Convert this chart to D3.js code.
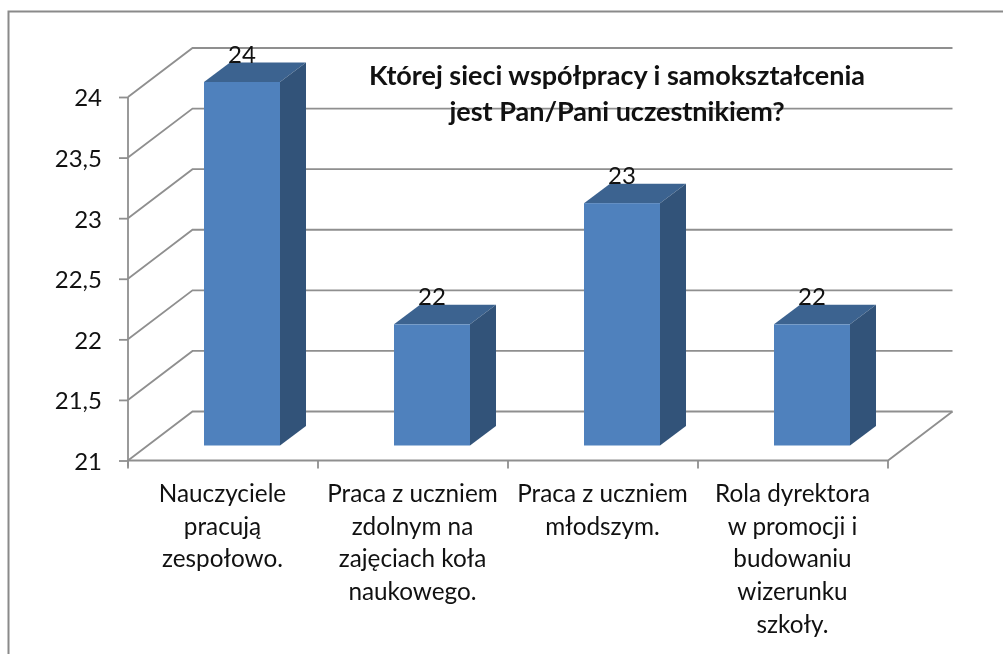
<!DOCTYPE html>
<html>
<head>
<meta charset="utf-8">
<script src="https://cdn.jsdelivr.net/npm/d3@7"></script>
<style>
html,body{margin:0;padding:0;background:#fff;overflow:hidden}
svg{display:block;filter:blur(0.45px)}
text{font-family:Lato,"Open Sans",sans-serif;fill:#111}
</style>
</head>
<body>
<svg id="c" width="1003" height="654"></svg>
<script>
const categories = [
  ["Nauczyciele","pracują","zespołowo."],
  ["Praca z uczniem","zdolnym na","zajęciach koła","naukowego."],
  ["Praca z uczniem","młodszym."],
  ["Rola dyrektora","w promocji i","budowaniu","wizerunku","szkoły."]
];
const values = [24, 22, 23, 22];
const yTicks = [21, 21.5, 22, 22.5, 23, 23.5, 24];
const titleLines = ["Której sieci współpracy i samokształcenia", "jest Pan/Pani uczestnikiem?"];

const svg = d3.select("#c");
const gray = "#8f8f8f";

const x = d3.scaleBand().domain(d3.range(categories.length)).range([128, 888]).paddingInner(0).paddingOuter(0);
const y = d3.scaleLinear().domain([21, 24]).range([460.5, 97]);
const fmt = v => String(v).replace(".", ",");

// 3D projection offsets
const wallDx = 64.5, wallDy = -49;
const barW = 76, barDx = 26, barDy = -19.5, barLift = -15, barShift = 19;

// outer chart border
svg.append("path").attr("d", "M8.5,654V11.5H1003").attr("fill", "none").attr("stroke", "#8a8a8a").attr("stroke-width", 2);

// back-wall gridlines and side-wall diagonals
const grid = svg.append("g").attr("fill", "none").attr("stroke", gray).attr("stroke-width", 1.8);
grid.selectAll("path.g").data(yTicks).join("path").attr("class", "g")
  .attr("d", d => `M${x.range()[0]},${y(d)}l${wallDx},${wallDy}H${x.range()[1] + wallDx}`);
// floor
grid.append("path").attr("d", `M${x.range()[0]},${y(21)}H${x.range()[1]}l${wallDx},${wallDy}`);

// axes
const axisY = svg.append("g").attr("transform", `translate(${x.range()[0]},0)`)
  .call(d3.axisLeft(y).tickValues(yTicks).tickFormat(fmt).tickSize(9).tickPadding(17));
axisY.select(".domain").attr("stroke", gray).attr("stroke-width", 1.8).attr("d", `M0,${y(24)}V${y(21)+6}`);
axisY.selectAll(".tick line").attr("stroke", gray).attr("stroke-width", 1.8);
axisY.selectAll(".tick text").attr("font-size", 24).attr("dy", "0.37em");

const xTickPos = d3.range(categories.length).map(i => x(i)).concat([x.range()[1]]);
svg.append("g").selectAll("line").data(xTickPos).join("line")
  .attr("x1", d => d).attr("x2", d => d).attr("y1", y(21)).attr("y2", y(21) + 8)
  .attr("stroke", gray).attr("stroke-width", 1.8);

// bars
const barX = i => x(i) + x.bandwidth() / 2 - barW / 2 + barShift;
const base = y(21) + barLift;
const barTop = v => y(v) + barLift;
const bars = svg.append("g").selectAll("g").data(values).join("g");
bars.append("path").attr("fill", "#3c6390")
  .attr("d", (d, i) => `M${barX(i)},${barTop(d)}l${barDx},${barDy}h${barW}l${-barDx},${-barDy}z`);
bars.append("path").attr("fill", "#325379")
  .attr("d", (d, i) => `M${barX(i) + barW},${barTop(d)}l${barDx},${barDy}V${base + barDy}l${-barDx},${-barDy}z`);
bars.append("rect").attr("fill", "#4f81bd")
  .attr("x", (d, i) => barX(i)).attr("width", barW)
  .attr("y", d => barTop(d)).attr("height", d => base - barTop(d));

// data labels
bars.append("text").attr("text-anchor", "middle").attr("font-size", 24)
  .attr("x", (d, i) => barX(i) + barW / 2)
  .attr("y", d => barTop(d) - 19)
  .text(d => d);

// category labels
const lineH = 32.7;
svg.append("g").selectAll("text").data(categories).join("text")
  .attr("text-anchor", "middle").attr("font-size", 24.3)
  .each(function (lines, i) {
    d3.select(this).selectAll("tspan").data(lines).join("tspan")
      .attr("x", x(i) + x.bandwidth() / 2 - 0.5)
      .attr("y", (l, k) => 502 + k * lineH)
      .text(l => l);
  });

// title
svg.append("g").selectAll("text").data(titleLines).join("text")
  .attr("text-anchor", "middle").attr("font-size", 27).attr("font-weight", 700)
  .attr("x", 617).attr("y", (d, i) => 85 + i * 35.5).text(d => d);
</script>
</body>
</html>
